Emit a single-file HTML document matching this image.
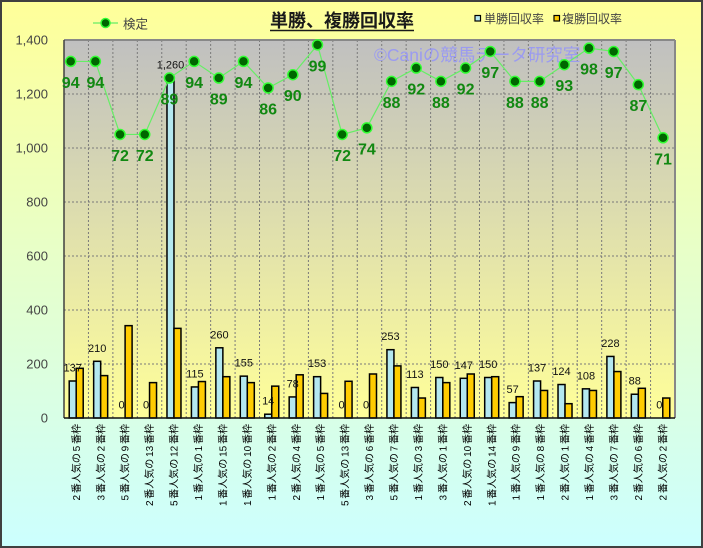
<!DOCTYPE html>
<html><head><meta charset="utf-8"><style>
html,body{margin:0;padding:0;background:#fff}
svg{display:block}
text{font-family:"Liberation Sans","Noto Sans CJK JP",sans-serif}
</style></head><body>
<svg width="703" height="548" viewBox="0 0 703 548" xmlns="http://www.w3.org/2000/svg">
<defs>
<linearGradient id="og" x1="0" y1="0" x2="0" y2="1">
<stop offset="0" stop-color="#ffff99"/><stop offset="1" stop-color="#ccffff"/>
</linearGradient>
<linearGradient id="pg" x1="0" y1="0" x2="0" y2="1">
<stop offset="0" stop-color="#c0c0c0"/><stop offset="1" stop-color="#ffff99"/>
</linearGradient>
</defs>
<rect x="0" y="0" width="703" height="548" fill="url(#og)"/>
<rect x="1" y="1" width="701" height="546" fill="none" stroke="#404040" stroke-width="2"/>

<!-- plot area -->
<rect x="64" y="40" width="611" height="378" fill="url(#pg)"/>
<g stroke="#7a7a7a" stroke-width="1" stroke-dasharray="2,2" fill="none">
<line x1="64" y1="364" x2="675" y2="364"/><line x1="64" y1="310" x2="675" y2="310"/>
<line x1="64" y1="256" x2="675" y2="256"/><line x1="64" y1="202" x2="675" y2="202"/>
<line x1="64" y1="148" x2="675" y2="148"/><line x1="64" y1="94" x2="675" y2="94"/>
<line x1="88.44" y1="40" x2="88.44" y2="418"/><line x1="112.88" y1="40" x2="112.88" y2="418"/>
<line x1="137.32" y1="40" x2="137.32" y2="418"/><line x1="161.76" y1="40" x2="161.76" y2="418"/>
<line x1="186.2" y1="40" x2="186.2" y2="418"/><line x1="210.64" y1="40" x2="210.64" y2="418"/>
<line x1="235.08" y1="40" x2="235.08" y2="418"/><line x1="259.52" y1="40" x2="259.52" y2="418"/>
<line x1="283.96" y1="40" x2="283.96" y2="418"/><line x1="308.4" y1="40" x2="308.4" y2="418"/>
<line x1="332.84" y1="40" x2="332.84" y2="418"/><line x1="357.28" y1="40" x2="357.28" y2="418"/>
<line x1="381.72" y1="40" x2="381.72" y2="418"/><line x1="406.16" y1="40" x2="406.16" y2="418"/>
<line x1="430.6" y1="40" x2="430.6" y2="418"/><line x1="455.04" y1="40" x2="455.04" y2="418"/>
<line x1="479.48" y1="40" x2="479.48" y2="418"/><line x1="503.92" y1="40" x2="503.92" y2="418"/>
<line x1="528.36" y1="40" x2="528.36" y2="418"/><line x1="552.8" y1="40" x2="552.8" y2="418"/>
<line x1="577.24" y1="40" x2="577.24" y2="418"/><line x1="601.68" y1="40" x2="601.68" y2="418"/>
<line x1="626.12" y1="40" x2="626.12" y2="418"/><line x1="650.56" y1="40" x2="650.56" y2="418"/>
</g>
<line x1="64" y1="40" x2="675" y2="40" stroke="#888" stroke-width="2"/>
<line x1="675" y1="40" x2="675" y2="418" stroke="#888" stroke-width="2"/>

<!-- watermark -->
<text x="374" y="61" font-size="17.5" fill="#9b9bf0">©Caniの競馬データ研究室</text>

<!-- blue bars -->
<g fill="#b4e8f0" stroke="#000" stroke-width="1.5">
<rect x="69.22" y="381.01" width="7" height="36.99"/>
<rect x="93.66" y="361.3" width="7" height="56.7"/>
<rect x="166.98" y="77.8" width="7" height="340.2"/>
<rect x="191.42" y="386.95" width="7" height="31.05"/>
<rect x="215.86" y="347.8" width="7" height="70.2"/>
<rect x="240.3" y="376.15" width="7" height="41.85"/>
<rect x="264.74" y="414.22" width="7" height="3.78"/>
<rect x="289.18" y="396.94" width="7" height="21.06"/>
<rect x="313.62" y="376.69" width="7" height="41.31"/>
<rect x="386.94" y="349.69" width="7" height="68.31"/>
<rect x="411.38" y="387.49" width="7" height="30.51"/>
<rect x="435.82" y="377.5" width="7" height="40.5"/>
<rect x="460.26" y="378.31" width="7" height="39.69"/>
<rect x="484.7" y="377.5" width="7" height="40.5"/>
<rect x="509.14" y="402.61" width="7" height="15.39"/>
<rect x="533.58" y="381.01" width="7" height="36.99"/>
<rect x="558.02" y="384.52" width="7" height="33.48"/>
<rect x="582.46" y="388.84" width="7" height="29.16"/>
<rect x="606.9" y="356.44" width="7" height="61.56"/>
<rect x="631.34" y="394.24" width="7" height="23.76"/>
</g>
<!-- yellow bars -->
<g fill="#ffcc00" stroke="#000" stroke-width="1.5">
<rect x="76.22" y="368.32" width="7" height="49.68"/>
<rect x="100.66" y="375.61" width="7" height="42.39"/>
<rect x="125.1" y="325.66" width="7" height="92.34"/>
<rect x="149.54" y="382.63" width="7" height="35.37"/>
<rect x="173.98" y="328.36" width="7" height="89.64"/>
<rect x="198.42" y="381.55" width="7" height="36.45"/>
<rect x="222.86" y="376.69" width="7" height="41.31"/>
<rect x="247.3" y="382.63" width="7" height="35.37"/>
<rect x="271.74" y="386.14" width="7" height="31.86"/>
<rect x="296.18" y="374.8" width="7" height="43.2"/>
<rect x="320.62" y="393.43" width="7" height="24.57"/>
<rect x="345.06" y="381.28" width="7" height="36.72"/>
<rect x="369.5" y="373.99" width="7" height="44.01"/>
<rect x="393.94" y="365.89" width="7" height="52.11"/>
<rect x="418.38" y="398.02" width="7" height="19.98"/>
<rect x="442.82" y="382.63" width="7" height="35.37"/>
<rect x="467.26" y="373.99" width="7" height="44.01"/>
<rect x="491.7" y="376.69" width="7" height="41.31"/>
<rect x="516.14" y="396.67" width="7" height="21.33"/>
<rect x="540.58" y="390.46" width="7" height="27.54"/>
<rect x="565.02" y="403.69" width="7" height="14.31"/>
<rect x="589.46" y="390.46" width="7" height="27.54"/>
<rect x="613.9" y="371.56" width="7" height="46.44"/>
<rect x="638.34" y="388.3" width="7" height="29.7"/>
<rect x="662.78" y="398.02" width="7" height="19.98"/>
</g>

<!-- axes -->
<line x1="64" y1="40" x2="64" y2="418" stroke="#404040" stroke-width="1.5"/>
<line x1="64" y1="418" x2="675" y2="418" stroke="#111" stroke-width="1.5"/>

<!-- y labels -->
<g font-size="13" fill="#444" text-anchor="end">
<text x="48" y="422.5">0</text>
<text x="48" y="368.5">200</text>
<text x="48" y="314.5">400</text>
<text x="48" y="260.5">600</text>
<text x="48" y="206.5">800</text>
<text x="48" y="152.5">1,000</text>
<text x="48" y="98.5">1,200</text>
<text x="48" y="44.5">1,400</text>
</g>

<!-- bar labels -->
<g font-size="11" fill="#111" text-anchor="middle">
<text x="72.7" y="371.5">137</text>
<text x="97.2" y="351.8">210</text>
<text x="121.6" y="408.5">0</text>
<text x="146" y="408.5">0</text>
<text x="170.5" y="68.3">1,260</text>
<text x="194.9" y="377.5">115</text>
<text x="219.4" y="338.3">260</text>
<text x="243.8" y="366.7">155</text>
<text x="268.2" y="404.7">14</text>
<text x="292.7" y="387.4">78</text>
<text x="317.1" y="367.2">153</text>
<text x="341.6" y="408.5">0</text>
<text x="366" y="408.5">0</text>
<text x="390.4" y="340.2">253</text>
<text x="414.9" y="378">113</text>
<text x="439.3" y="368">150</text>
<text x="463.8" y="368.8">147</text>
<text x="488.2" y="368">150</text>
<text x="512.6" y="393.1">57</text>
<text x="537.1" y="371.5">137</text>
<text x="561.5" y="375">124</text>
<text x="586" y="379.3">108</text>
<text x="610.4" y="346.9">228</text>
<text x="634.8" y="384.7">88</text>
<text x="659.3" y="408.5">0</text>
</g>

<!-- line series -->
<polyline fill="none" stroke="#66ee66" stroke-width="1.2" points="70.7,61.42 95.38,61.42 120.06,134.46 144.74,134.46 169.42,78.02 194.1,61.42 218.78,78.02 243.46,61.42 268.14,87.98 292.82,74.7 317.5,44.82 342.18,134.46 366.86,127.82 391.54,81.34 416.22,68.06 440.9,81.34 465.58,68.06 490.26,51.46 514.94,81.34 539.62,81.34 564.3,64.74 588.98,48.14 613.66,51.46 638.34,84.66 663.02,137.78"/>
<g fill="#006600" stroke="#33ff33" stroke-width="1.5">
<circle cx="70.7" cy="61.42" r="5"/><circle cx="95.38" cy="61.42" r="5"/>
<circle cx="120.06" cy="134.46" r="5"/><circle cx="144.74" cy="134.46" r="5"/>
<circle cx="169.42" cy="78.02" r="5"/><circle cx="194.1" cy="61.42" r="5"/>
<circle cx="218.78" cy="78.02" r="5"/><circle cx="243.46" cy="61.42" r="5"/>
<circle cx="268.14" cy="87.98" r="5"/><circle cx="292.82" cy="74.7" r="5"/>
<circle cx="317.5" cy="44.82" r="5"/><circle cx="342.18" cy="134.46" r="5"/>
<circle cx="366.86" cy="127.82" r="5"/><circle cx="391.54" cy="81.34" r="5"/>
<circle cx="416.22" cy="68.06" r="5"/><circle cx="440.9" cy="81.34" r="5"/>
<circle cx="465.58" cy="68.06" r="5"/><circle cx="490.26" cy="51.46" r="5"/>
<circle cx="514.94" cy="81.34" r="5"/><circle cx="539.62" cy="81.34" r="5"/>
<circle cx="564.3" cy="64.74" r="5"/><circle cx="588.98" cy="48.14" r="5"/>
<circle cx="613.66" cy="51.46" r="5"/><circle cx="638.34" cy="84.66" r="5"/>
<circle cx="663.02" cy="137.78" r="5"/>
</g>
<g font-size="16" font-weight="bold" fill="#118811" text-anchor="middle">
<text x="70.7" y="87.9">94</text><text x="95.38" y="87.9">94</text>
<text x="120.06" y="161">72</text><text x="144.74" y="161">72</text>
<text x="169.42" y="104.5">89</text><text x="194.1" y="87.9">94</text>
<text x="218.78" y="104.5">89</text><text x="243.46" y="87.9">94</text>
<text x="268.14" y="114.5">86</text><text x="292.82" y="101.2">90</text>
<text x="317.5" y="71.3">99</text><text x="342.18" y="161">72</text>
<text x="366.86" y="154.3">74</text><text x="391.54" y="107.8">88</text>
<text x="416.22" y="94.6">92</text><text x="440.9" y="107.8">88</text>
<text x="465.58" y="94.6">92</text><text x="490.26" y="78">97</text>
<text x="514.94" y="107.8">88</text><text x="539.62" y="107.8">88</text>
<text x="564.3" y="91.2">93</text><text x="588.98" y="74.6">98</text>
<text x="613.66" y="78">97</text><text x="638.34" y="111.2">87</text>
<text x="663.02" y="164.3">71</text>
</g>

<!-- x labels -->
<g font-size="10" fill="#000" text-anchor="end" word-spacing="-1">
<text transform="translate(79.8,424) rotate(-90)">2 番人気の 5 番枠</text>
<text transform="translate(104.3,424) rotate(-90)">3 番人気の 2 番枠</text>
<text transform="translate(128.7,424) rotate(-90)">5 番人気の 9 番枠</text>
<text transform="translate(153.1,424) rotate(-90)">2 番人気の 13 番枠</text>
<text transform="translate(177.6,424) rotate(-90)">5 番人気の 12 番枠</text>
<text transform="translate(202,424) rotate(-90)">1 番人気の 1 番枠</text>
<text transform="translate(226.5,424) rotate(-90)">1 番人気の 15 番枠</text>
<text transform="translate(250.9,424) rotate(-90)">1 番人気の 10 番枠</text>
<text transform="translate(275.3,424) rotate(-90)">1 番人気の 2 番枠</text>
<text transform="translate(299.8,424) rotate(-90)">2 番人気の 4 番枠</text>
<text transform="translate(324.2,424) rotate(-90)">1 番人気の 5 番枠</text>
<text transform="translate(348.7,424) rotate(-90)">5 番人気の 13 番枠</text>
<text transform="translate(373.1,424) rotate(-90)">3 番人気の 6 番枠</text>
<text transform="translate(397.5,424) rotate(-90)">5 番人気の 7 番枠</text>
<text transform="translate(422,424) rotate(-90)">1 番人気の 3 番枠</text>
<text transform="translate(446.4,424) rotate(-90)">3 番人気の 1 番枠</text>
<text transform="translate(470.9,424) rotate(-90)">2 番人気の 10 番枠</text>
<text transform="translate(495.3,424) rotate(-90)">1 番人気の 14 番枠</text>
<text transform="translate(519.7,424) rotate(-90)">1 番人気の 9 番枠</text>
<text transform="translate(544.2,424) rotate(-90)">1 番人気の 8 番枠</text>
<text transform="translate(568.6,424) rotate(-90)">2 番人気の 1 番枠</text>
<text transform="translate(593.1,424) rotate(-90)">1 番人気の 4 番枠</text>
<text transform="translate(617.5,424) rotate(-90)">3 番人気の 7 番枠</text>
<text transform="translate(641.9,424) rotate(-90)">2 番人気の 6 番枠</text>
<text transform="translate(666.4,424) rotate(-90)">2 番人気の 2 番枠</text>
</g>

<!-- title -->
<text x="270" y="27" font-size="18" font-weight="bold" fill="#1a1a1a">単勝、複勝回収率</text>
<line x1="270" y1="30.5" x2="414" y2="30.5" stroke="#1a1a1a" stroke-width="1.5"/>

<!-- legend left -->
<line x1="93" y1="23" x2="118" y2="23" stroke="#66ee66" stroke-width="1.2"/>
<circle cx="105.5" cy="23" r="4.5" fill="#006600" stroke="#33ff33" stroke-width="1.5"/>
<text x="123" y="28.5" font-size="12.5" fill="#444">検定</text>

<!-- legend right -->
<rect x="475" y="15.5" width="5.5" height="5.5" fill="#b4e8f0" stroke="#000" stroke-width="1.2"/>
<text x="484" y="23" font-size="12" fill="#444">単勝回収率</text>
<rect x="554" y="15.5" width="5.5" height="5.5" fill="#ffcc00" stroke="#000" stroke-width="1.2"/>
<text x="562" y="23" font-size="12" fill="#444">複勝回収率</text>
</svg>
</body></html>
